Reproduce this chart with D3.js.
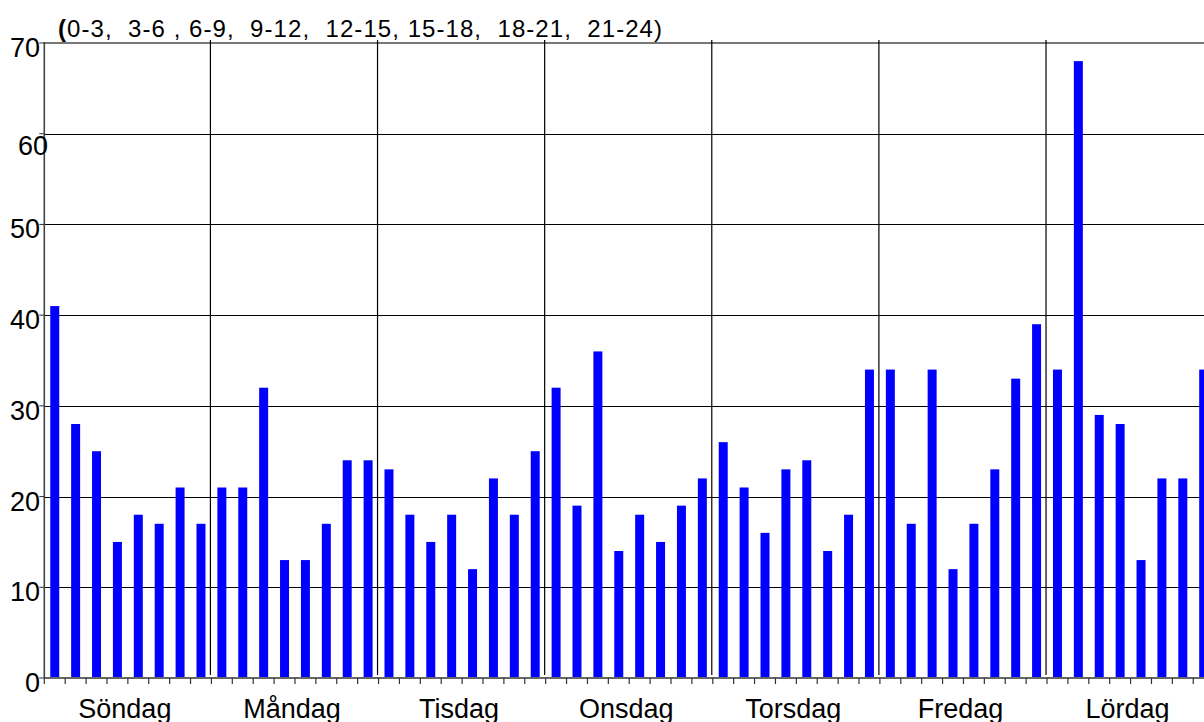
<!DOCTYPE html>
<html>
<head>
<meta charset="utf-8">
<script src="https://d3js.org/d3.v7.min.js"></script>
<style>
  html, body { margin: 0; padding: 0; background: #fff; overflow: hidden; }
  svg { display: block; font-family: "Liberation Sans", Arial, Helvetica, sans-serif; }
  .grid line { stroke: #000; stroke-width: 1; shape-rendering: crispEdges; }
  .sep { stroke: #000; stroke-width: 1.2; }
</style>
</head>
<body>
<div id="chart"></div>
<script>
// Weekdays (Swedish), each split in eight 3-hour periods
const days = ['Söndag', 'Måndag', 'Tisdag', 'Onsdag', 'Torsdag', 'Fredag', 'Lördag'];
const periodTitle = '0-3,  3-6 , 6-9,  9-12,  12-15, 15-18,  18-21,  21-24)';
const yTicks = [0, 10, 20, 30, 40, 50, 60, 70];

// counts per period, 8 per day
const counts = [
  41, 28, 25, 15, 18, 17, 21, 17,   // Söndag
  21, 21, 32, 13, 13, 17, 24, 24,   // Måndag
  23, 18, 15, 18, 12, 22, 18, 25,   // Tisdag
  32, 19, 36, 14, 18, 15, 19, 22,   // Onsdag
  26, 21, 16, 23, 24, 14, 18, 34,   // Torsdag
  34, 17, 34, 12, 17, 23, 33, 39,   // Fredag
  34, 68, 29, 28, 13, 22, 22, 34    // Lördag
];

const W = 1204, H = 722;
const plotLeft = 44.3, plotTop = 43, plotBottom = 678;
const slotW = 20.89;
const plotRight = plotLeft + counts.length * slotW; // runs past the window edge, clipped

const svg = d3.select('#chart').append('svg')
  .attr('width', W).attr('height', H)
  .attr('viewBox', `0 0 ${W} ${H}`);

const slots = counts.map((d, i) => i);
const x = d3.scaleBand().domain(slots).range([plotLeft, plotRight])
  .paddingInner(0.57).paddingOuter(0.285);
const xDay = d3.scaleBand().domain(days).range([plotLeft, plotRight]);
const y = d3.scaleLinear().domain([0, 70]).range([plotBottom, plotTop]);

// horizontal grid
const grid = svg.append('g').attr('class', 'grid');
grid.selectAll('line').data(yTicks.filter(t => t > 0 && t < 70)).join('line')
  .attr('x1', plotLeft).attr('x2', W)
  .attr('y1', d => Math.round(y(d)) + 0.5).attr('y2', d => Math.round(y(d)) + 0.5);
svg.append('line')
  .attr('x1', plotLeft).attr('x2', W).attr('y1', y(70)).attr('y2', y(70))
  .attr('stroke', '#777').attr('stroke-width', 2);

// day separators
svg.append('g').selectAll('line').data(days.slice(1)).join('line')
  .attr('class', 'sep')
  .attr('x1', d => xDay(d) - 1).attr('x2', d => xDay(d) - 1)
  .attr('y1', 40).attr('y2', plotBottom - 3);

// bars
svg.append('g').selectAll('rect').data(counts).join('rect')
  .attr('x', (d, i) => x(i))
  .attr('width', x.bandwidth())
  .attr('y', d => y(d))
  .attr('height', d => y(0) - y(d))
  .attr('fill', '#0000ff');

// x axis: ticks at every slot boundary
const xAxis = svg.append('g');
xAxis.append('line')
  .attr('x1', plotLeft).attr('x2', W).attr('y1', plotBottom).attr('y2', plotBottom)
  .attr('stroke', '#666').attr('stroke-width', 2);
xAxis.selectAll('line.tk').data(d3.range(counts.length + 1)).join('line')
  .attr('class', 'tk')
  .attr('x1', i => plotLeft + i * x.step()).attr('x2', i => plotLeft + i * x.step())
  .attr('y1', plotBottom).attr('y2', plotBottom + 6)
  .attr('stroke', '#333').attr('stroke-width', 1.2);
// day names; descenders are cut by the window edge, as in the original
xAxis.selectAll('text').data(days).join('text')
  .attr('x', d => xDay(d) + xDay.bandwidth() / 2 - 3)
  .attr('y', 718)
  .attr('text-anchor', 'middle')
  .attr('font-size', 27)
  .text(d => d);

// y axis
const yAxis = svg.append('g');
yAxis.append('line')
  .attr('x1', plotLeft).attr('x2', plotLeft).attr('y1', plotTop - 1).attr('y2', plotBottom)
  .attr('stroke', '#444').attr('stroke-width', 1.6);
yAxis.selectAll('line.tk').data(yTicks).join('line')
  .attr('class', 'tk')
  .attr('x1', plotLeft - 5).attr('x2', plotLeft).attr('y1', d => y(d)).attr('y2', d => y(d))
  .attr('stroke', '#333');
yAxis.selectAll('text').data(yTicks).join('text')
  .attr('x', d => d === 60 ? 48 : 40)
  .attr('y', d => y(d) + (d === 60 ? 21 : 14))
  .attr('text-anchor', 'end')
  .attr('font-size', 27)
  .text(d => d);

// period legend on top
const title = svg.append('text')
  .attr('x', 58).attr('y', 37)
  .attr('font-size', 24)
  .attr('textLength', 604)
  .attr('lengthAdjust', 'spacing')
  .attr('xml:space', 'preserve')
  .style('white-space', 'pre');
title.append('tspan').attr('font-weight', 'bold').text('(');
title.append('tspan').text(periodTitle);
</script>
</body>
</html>
